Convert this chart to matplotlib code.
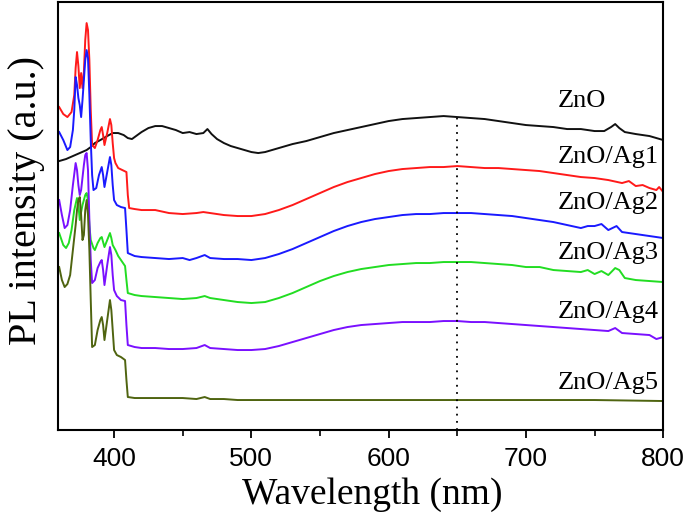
import matplotlib
matplotlib.use('Agg')
import matplotlib.pyplot as plt
from matplotlib.ticker import MultipleLocator

# Spectra (wavelength in nm, PL intensity in arbitrary units, stacked)
zno_wl = [360, 365, 370, 375, 380, 383, 386, 390, 395, 399, 403, 407, 410, 413, 416, 420, 425, 430, 435, 440,
          445, 450, 455, 460, 465, 468, 471, 475, 480, 485, 490, 495, 500, 505, 510, 520, 530, 540, 550, 560,
          570, 580, 590, 600, 610, 620, 630, 640, 650, 660, 670, 680, 690, 700, 710, 720, 730, 740, 750, 757,
          762, 765, 768, 772, 780, 790, 800]
zno_int = [269, 271, 274, 277, 280, 283, 287, 290, 294, 297, 297, 295, 292, 291, 294, 298, 302, 304, 304, 302,
           300, 297, 298, 296, 297, 301, 296, 291, 287, 284, 282, 280, 278, 277, 278, 282, 286, 289, 293, 297,
           300, 303, 306, 309, 311, 312, 313, 314, 313, 312, 311, 309, 307, 305, 304, 303, 301, 301, 299, 299,
           303, 306, 302, 298, 296, 294, 290]

ag1_wl = [360, 363, 366, 369, 371, 372, 373, 374, 375, 376, 377, 378, 379, 380, 381, 382, 383, 384, 386, 388,
          390, 391, 392, 393, 395, 397, 398, 399, 400, 401, 403, 406, 409, 410, 411, 415, 420, 430, 440, 450,
          460, 465, 470, 480, 490, 500, 510, 520, 530, 540, 550, 560, 570, 580, 590, 600, 610, 620, 630, 640,
          650, 660, 670, 680, 690, 700, 710, 720, 730, 740, 750, 760, 770, 775, 780, 785, 790, 795, 797, 800]
ag1_int = [323, 316, 313, 318, 335, 362, 378, 364, 342, 357, 342, 358, 390, 407, 400, 370, 320, 285, 282, 290,
           300, 303, 295, 285, 297, 311, 305, 287, 272, 267, 262, 260, 258, 235, 222, 221, 220, 220, 217, 216,
           217, 218, 217, 215, 214, 214, 216, 220, 225, 231, 237, 243, 248, 252, 256, 259, 261, 262, 263, 263,
           264, 263, 262, 262, 261, 260, 259, 257, 255, 253, 252, 250, 247, 249, 244, 245, 242, 240, 243, 238]

ag2_wl = [360, 363, 366, 368, 370, 371, 372, 373, 374, 375, 376, 377, 378, 379, 380, 381, 382, 383, 384, 385,
          387, 389, 391, 392, 393, 395, 397, 398, 399, 400, 402, 405, 408, 409, 410, 415, 420, 430, 440, 450,
          455, 460, 466, 470, 480, 490, 500, 510, 520, 530, 540, 550, 560, 570, 580, 590, 600, 610, 620, 630,
          640, 650, 660, 670, 680, 690, 700, 710, 720, 730, 740, 745, 750, 755, 760, 766, 770, 780, 790, 800]
ag2_int = [298, 290, 280, 283, 300, 320, 353, 345, 332, 325, 313, 330, 350, 370, 380, 372, 335, 290, 255, 240,
           242, 255, 263, 255, 243, 258, 273, 265, 245, 230, 225, 223, 222, 200, 177, 174, 173, 172, 171, 172,
           170, 172, 175, 172, 171, 171, 170, 172, 176, 181, 187, 193, 199, 204, 208, 211, 213, 215, 216, 216,
           217, 217, 217, 216, 215, 214, 212, 210, 208, 205, 202, 204, 204, 206, 200, 204, 198, 196, 194, 192]

ag3_wl = [360, 363, 365, 367, 369, 371, 373, 374, 375, 376, 377, 378, 379, 380, 381, 382, 383, 385, 386, 388,
          390, 391, 392, 393, 395, 397, 398, 399, 401, 403, 406, 408, 409, 410, 415, 420, 430, 440, 450, 460,
          466, 470, 480, 490, 500, 510, 520, 530, 540, 550, 560, 570, 580, 590, 600, 610, 620, 630, 640, 650,
          660, 670, 680, 690, 700, 710, 720, 730, 740, 745, 750, 755, 760, 765, 768, 772, 780, 790, 800]
ag3_int = [197, 185, 182, 187, 200, 220, 232, 225, 210, 218, 225, 230, 235, 237, 230, 205, 190, 182, 180, 187,
           192, 193, 188, 183, 190, 197, 192, 185, 180, 174, 168, 164, 150, 137, 135, 134, 133, 132, 131, 132,
           134, 132, 130, 128, 127, 128, 132, 137, 143, 149, 154, 158, 161, 163, 165, 166, 167, 167, 168, 168,
           168, 167, 166, 165, 163, 163, 160, 159, 158, 160, 156, 159, 155, 162, 160, 152, 150, 149, 148]

ag4_wl = [360, 362, 364, 366, 368, 370, 372, 373, 374, 375, 376, 378, 379, 380, 381, 382, 383, 384, 386, 388,
          390, 391, 392, 393, 395, 397, 398, 399, 400, 402, 405, 408, 409, 410, 415, 420, 430, 440, 450, 460,
          466, 470, 480, 490, 500, 510, 520, 530, 540, 550, 560, 570, 580, 590, 600, 610, 620, 630, 640, 650,
          660, 670, 680, 690, 700, 710, 720, 730, 740, 750, 760, 765, 770, 780, 790, 795, 800]
ag4_int = [230, 215, 202, 205, 220, 245, 267, 260, 245, 235, 240, 265, 275, 277, 260, 210, 170, 147, 150, 162,
           168, 170, 160, 145, 165, 183, 175, 155, 140, 134, 130, 129, 105, 85, 83, 82, 82, 81, 81, 82,
           85, 82, 81, 80, 80, 81, 84, 88, 92, 96, 100, 103, 105, 106, 107, 108, 108, 108, 109, 109,
           108, 108, 107, 106, 105, 104, 103, 102, 101, 100, 99, 102, 97, 96, 95, 91, 93]

ag5_wl = [360, 362, 364, 366, 368, 370, 372, 373, 374, 375, 376, 377, 378, 379, 380, 381, 382, 383, 384, 386,
          388, 390, 391, 392, 393, 395, 397, 398, 399, 400, 402, 405, 408, 409, 410, 415, 420, 430, 440, 450,
          460, 466, 470, 480, 490, 500, 550, 600, 650, 700, 750, 800]
ag5_int = [163, 150, 143, 146, 155, 180, 205, 220, 230, 233, 215, 190, 195, 220, 230, 215, 180, 130, 83, 85,
           100, 110, 113, 105, 90, 110, 130, 120, 100, 80, 75, 73, 70, 50, 33, 32, 32, 32, 32, 32,
           31, 33, 31, 31, 30, 30, 30, 30, 30, 30, 30, 29]

series_names = ['ZnO', 'ZnO/Ag1', 'ZnO/Ag2', 'ZnO/Ag3', 'ZnO/Ag4', 'ZnO/Ag5']
series_wl = [zno_wl, ag1_wl, ag2_wl, ag3_wl, ag4_wl, ag5_wl]
series_int = [zno_int, ag1_int, ag2_int, ag3_int, ag4_int, ag5_int]
colors = ['#111111', '#ff1a1a', '#1a1aff', '#22dd22', '#7a10ff', '#4f6410']
label_y = [329, 273, 227, 177, 118, 47]
peak_wl = 650
peak_top = 312

fig = plt.figure(figsize=(6.88, 5.15), dpi=100)
ax = fig.add_axes([0.084, 0.165, 0.88, 0.831])

for wl, inten, c in zip(series_wl, series_int, colors):
    ax.plot(wl, inten, color=c, lw=1.4)

# dotted marker at the visible emission maximum
ax.vlines(peak_wl, 0, peak_top, colors='black', linestyles=(0, (1, 3)), lw=1.3)

for name, y in zip(series_names, label_y):
    ax.text(723, y, name, ha='left', va='center', fontsize=19, family='Liberation Serif')

ax.set_xlim(359, 800)
ax.set_ylim(0, 428)
ax.set_yticks([])
ax.xaxis.set_major_locator(MultipleLocator(100))
ax.xaxis.set_minor_locator(MultipleLocator(50))
ax.tick_params(axis='x', which='major', direction='out', length=6, width=1.3, labelsize=19, pad=6)
ax.tick_params(axis='x', which='minor', direction='out', length=4, width=1.2)
for lab in ax.get_xticklabels():
    lab.set_family('Liberation Sans')
for s in ax.spines.values():
    s.set_linewidth(1.5)

ax.set_xlabel('Wavelength (nm)', fontsize=27, family='Liberation Serif')
ax.set_ylabel('PL intensity (a.u.)', fontsize=29, family='Liberation Serif')
ax.xaxis.set_label_coords(0.52, -0.11)
ax.yaxis.set_label_coords(-0.0215, 0.537)

fig.savefig('out.png', dpi=100)
